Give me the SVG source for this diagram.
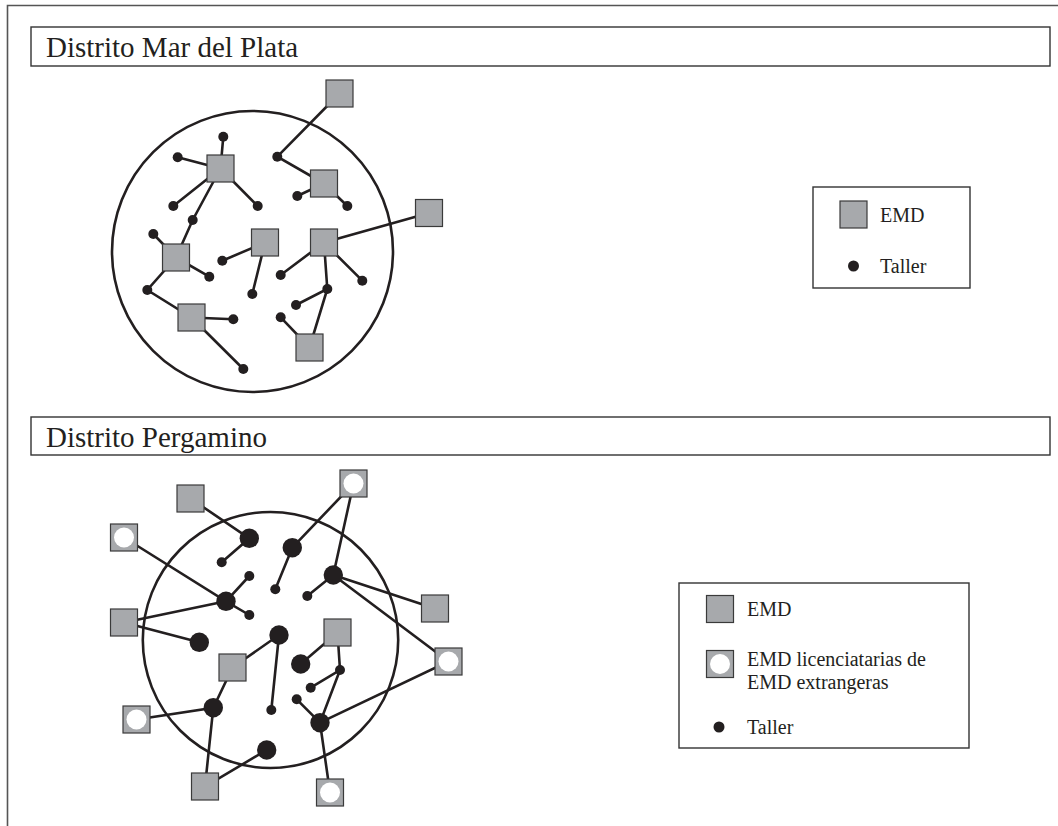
<svg xmlns="http://www.w3.org/2000/svg" width="1058" height="826" viewBox="0 0 1058 826">
<style>
.frame{fill:none;stroke:#555;stroke-width:1.6}
.tbox{fill:#fff;stroke:#333;stroke-width:1.4}
.title{font-family:"Liberation Serif",serif;font-size:29px;fill:#231f20}
.lt{font-family:"Liberation Serif",serif;font-size:20px;fill:#231f20}
.lbox{fill:#fff;stroke:#333;stroke-width:1.4}
.sq{fill:#a7a9ac;stroke:#3a3a3a;stroke-width:1.2}
.wc{fill:#fff}
.dot{fill:#231f20}
.ring{fill:none;stroke:#231f20;stroke-width:2.6}
.ln{stroke:#231f20;stroke-width:2.6;fill:none}
</style>
<defs>
<rect id="S" class="sq" x="-13.5" y="-13.5" width="27" height="27"/>
<g id="W"><rect class="sq" x="-13.5" y="-13.5" width="27" height="27"/><circle class="wc" cx="0" cy="0" r="10"/></g>
</defs>
<rect width="1058" height="826" fill="#fff"/>
<path class="frame" d="M1058 5.5 H7.5 V826"/>

<g id="title1"><rect class="tbox" x="31" y="27" width="1019" height="39"/><text class="title" x="46" y="57">Distrito Mar del Plata</text></g>
<g id="title2"><rect class="tbox" x="31" y="417" width="1019" height="38"/><text class="title" x="46" y="447">Distrito Pergamino</text></g>

<ellipse id="circle1" class="ring" cx="252.5" cy="251.5" rx="140.5" ry="140.5"/>
<ellipse id="circle2" class="ring" cx="270.5" cy="640" rx="127.7" ry="128"/>

<g id="connectors1">
<path class="ln" d="M220.5 168.5 L223.3 136.7 M220.5 168.5 L177.7 157.3 M220.5 168.5 L173.3 206 M220.5 168.5 L257.7 206 M220.5 168.5 L192.7 220 L176 257.5 M339.5 93.5 L277.3 156.7 L324 183.5 M324 183.5 L297.3 196 M324 183.5 L347.3 206 M265 242.5 L222.3 260.7 M265 242.5 L252.3 294 M324 242.5 L429 213 M324 242.5 L280.7 275 M324 242.5 L362.3 280.7 M324 242.5 L327.3 289 L296 305 M327.3 289 L309.5 347.5 L280.7 317.3 M176 257.5 L153.3 234 M176 257.5 L209.3 276.7 M176 257.5 L147.3 290 L191.5 317.5 L233.3 319.3 M191.5 317.5 L243.3 369"/>
</g>

<g id="connectors2">
<path class="ln" d="M190.5 498.5 L249.3 538.3 L221.7 562.3 M124 537.5 L226 601.3 L249.3 576 M226 601.3 L249.3 615 M124 622.5 L226 601.3 M124 622.5 L199.3 642.3 M292.3 547.7 L353.5 483.5 L333.3 575 M292.3 547.7 L275.3 589.3 M333.3 575 L307.3 596 M333.3 575 L435 608.5 M333.3 575 L448.5 661.5 L320 722.7 M337.5 632.5 L300.7 664 M337.5 632.5 L340 670 L310.7 687.7 M340 670 L320 722.7 L296.7 699.3 M320 722.7 L330 792.5 M279 635 L232.5 667.5 M279 635 L271.3 710 M232.5 667.5 L213.3 707.7 L136.5 719.5 M213.3 707.7 L205 786.5 L266.7 750"/>
</g>

<g id="nodes1">
<circle class="dot" cx="223.3" cy="136.7" r="5"/><circle class="dot" cx="177.7" cy="157.3" r="5"/><circle class="dot" cx="173.3" cy="206" r="5"/><circle class="dot" cx="257.7" cy="206" r="5"/><circle class="dot" cx="192.7" cy="220" r="5"/><circle class="dot" cx="277.3" cy="156.7" r="5"/><circle class="dot" cx="297.3" cy="196" r="5"/><circle class="dot" cx="347.3" cy="206" r="5"/><circle class="dot" cx="153.3" cy="234" r="5"/><circle class="dot" cx="209.3" cy="276.7" r="5"/><circle class="dot" cx="222.3" cy="260.7" r="5"/><circle class="dot" cx="252.3" cy="294" r="5"/><circle class="dot" cx="280.7" cy="275" r="5"/><circle class="dot" cx="362.3" cy="280.7" r="5"/><circle class="dot" cx="327.3" cy="289" r="5"/><circle class="dot" cx="296" cy="305" r="5"/><circle class="dot" cx="147.3" cy="290" r="5"/><circle class="dot" cx="233.3" cy="319.3" r="5"/><circle class="dot" cx="280.7" cy="317.3" r="5"/><circle class="dot" cx="243.3" cy="369" r="5"/>
<use href="#S" x="339.5" y="93.5"/><use href="#S" x="220.5" y="168.5"/><use href="#S" x="324" y="183.5"/><use href="#S" x="429" y="213"/><use href="#S" x="265" y="242.5"/><use href="#S" x="324" y="242.5"/><use href="#S" x="176" y="257.5"/><use href="#S" x="191.5" y="317.5"/><use href="#S" x="309.5" y="347.5"/>
</g>

<g id="nodes2">
<circle class="dot" cx="249.3" cy="538.3" r="9.7"/><circle class="dot" cx="292.3" cy="547.7" r="9.7"/><circle class="dot" cx="333.3" cy="575" r="9.7"/><circle class="dot" cx="226" cy="601.3" r="9.7"/><circle class="dot" cx="199.3" cy="642.3" r="9.7"/><circle class="dot" cx="279" cy="635" r="9.7"/><circle class="dot" cx="300.7" cy="664" r="9.7"/><circle class="dot" cx="213.3" cy="707.7" r="9.7"/><circle class="dot" cx="320" cy="722.7" r="9.7"/><circle class="dot" cx="266.7" cy="750" r="9.7"/>
<circle class="dot" cx="221.7" cy="562.3" r="5"/><circle class="dot" cx="249.3" cy="576" r="5"/><circle class="dot" cx="249.3" cy="615" r="5"/><circle class="dot" cx="275.3" cy="589.3" r="5"/><circle class="dot" cx="307.3" cy="596" r="5"/><circle class="dot" cx="340" cy="670" r="5"/><circle class="dot" cx="310.7" cy="687.7" r="5"/><circle class="dot" cx="296.7" cy="699.3" r="5"/><circle class="dot" cx="271.3" cy="710" r="5"/>
<use href="#S" x="190.5" y="498.5"/><use href="#W" x="124" y="537.5"/><use href="#S" x="124" y="622.5"/><use href="#S" x="232.5" y="667.5"/><use href="#W" x="136.5" y="719.5"/><use href="#S" x="205" y="786.5"/><use href="#W" x="330" y="792.5"/><use href="#W" x="353.5" y="483.5"/><use href="#S" x="435" y="608.5"/><use href="#W" x="448.5" y="661.5"/><use href="#S" x="337.5" y="632.5"/>
</g>

<g id="legend1">
<rect class="lbox" x="813" y="187" width="157" height="101"/>
<use href="#S" x="853.5" y="214.5"/>
<text class="lt" x="880" y="222">EMD</text>
<circle class="dot" cx="853.5" cy="266" r="5.5"/>
<text class="lt" x="880" y="273">Taller</text>
</g>

<g id="legend2">
<rect class="lbox" x="679" y="583" width="290" height="165"/>
<use href="#S" x="720" y="609"/>
<text class="lt" x="747" y="616">EMD</text>
<use href="#W" x="720" y="664"/>
<text class="lt" x="747" y="666">EMD licenciatarias de</text>
<text class="lt" x="747" y="689">EMD extrangeras</text>
<circle class="dot" cx="719" cy="727" r="5.5"/>
<text class="lt" x="747" y="734">Taller</text>
</g>
</svg>
